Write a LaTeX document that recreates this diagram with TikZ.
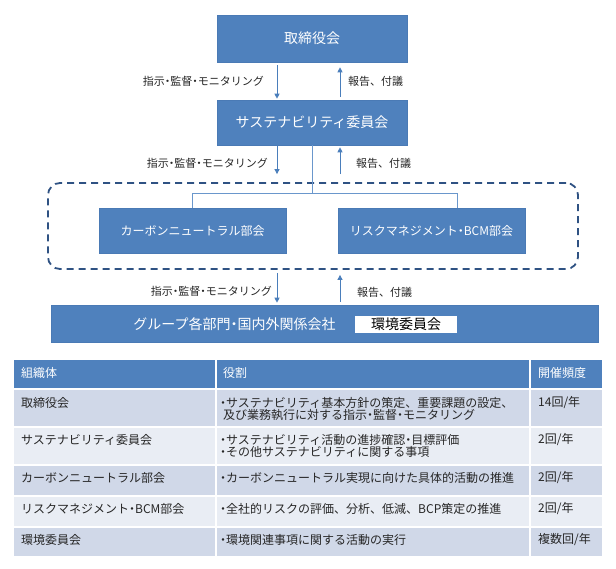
\documentclass[tikz,border=0pt]{standalone}
\usepackage{fontspec}
\setmainfont{Noto Sans CJK JP}
\usetikzlibrary{arrows.meta}
\definecolor{boxblue}{HTML}{4F81BD}
\definecolor{boxedge}{HTML}{4A7AB5}
\definecolor{arrblue}{HTML}{4A7EBB}
\definecolor{lineblue}{HTML}{6A97CC}
\definecolor{dashcol}{HTML}{2F5283}
\definecolor{rowdark}{HTML}{D0D8E8}
\definecolor{rowlight}{HTML}{E9EDF4}
\definecolor{txt}{HTML}{262626}
\newcommand\nd{\kern-0.25em・\kern-0.25em}
\tikzset{
  box/.style={fill=boxblue, draw=boxedge, line width=0.6pt, text=white,
    font=\fontsize{14}{16}\selectfont, inner sep=0pt},
  sbox/.style={box, font=\fontsize{12}{14}\selectfont},
  lbl/.style={font=\fontsize{11}{12}\selectfont, text=txt, inner sep=0pt},
  arr/.style={draw=arrblue, line width=0.9pt, -{Triangle[width=5pt,length=5pt]}},
  conn/.style={draw=lineblue, line width=0.8pt},
  dashbox/.style={draw=dashcol, line width=1.8pt, dash pattern=on 7pt off 5pt,
    rounded corners=12pt, inner sep=0pt},
  hcell/.style={fill=boxblue, draw=white, line width=2pt},
  dcell/.style={fill=rowdark, draw=white, line width=2pt},
  lcell/.style={fill=rowlight, draw=white, line width=2pt},
  htxt/.style={anchor=west, inner sep=0pt, text=white, font=\fontsize{12}{13}\selectfont},
  ttxt/.style={anchor=west, inner sep=0pt, text=txt, font=\fontsize{12}{13}\selectfont},
}
\begin{document}
\begin{tikzpicture}[x=1pt,y=-1pt]
\useasboundingbox (0,0) rectangle (616,569);

% main boxes
\node[box, minimum width=190pt, minimum height=47pt] (tori) at (312,38.5) {取締役会};
\node[box, minimum width=190pt, minimum height=45pt] (sus) at (312,122.5) {サステナビリティ委員会};
\node[dashbox, minimum width=530pt, minimum height=86pt] (grpbox) at (313,226) {};
\node[sbox, minimum width=187pt, minimum height=45pt] (cn) at (192.5,230.5) {カーボンニュートラル部会};
\node[sbox, minimum width=187pt, minimum height=45pt] (rm) at (431.5,230.5) {リスクマネジメント\nd BCM部会};
\node[box, minimum width=547pt, minimum height=37pt] (grp) at (324.5,323.5) {};
\node[text=white, inner sep=0pt, font=\fontsize{14}{16}\selectfont] (grpt) at (234.5,324) {グループ各部門\nd 国内外関係会社};
\node[fill=white, inner sep=0pt, minimum width=102pt, minimum height=17pt, text=black,
  font=\fontsize{14}{16}\selectfont] (env) at (406,324.5) {環境委員会};

% arrow columns
\coordinate (xL) at (277,0);
\coordinate (xR) at (340,0);

\draw[arr, shorten <=3pt, shorten >=1pt] (tori.south -| xL) -- (sus.north -| xL);
\draw[arr, shorten <=3pt, shorten >=5pt] (sus.north -| xR) -- (tori.south -| xR);
\node[lbl, anchor=east] (l1a) at (264,81) {指示\nd 監督\nd モニタリング};
\node[lbl, anchor=west] (l1b) at (348,81) {報告、付議};

\draw[arr, shorten <=0pt, shorten >=8pt] (sus.south -| xL) -- (grpbox.north -| xL);
\draw[arr, shorten <=8pt, shorten >=2pt] (grpbox.north -| xR) -- (sus.south -| xR);
\node[lbl, anchor=east] (l2a) at (268,163) {指示\nd 監督\nd モニタリング};
\node[lbl, anchor=west] (l2b) at (356,163) {報告、付議};

\draw[arr, shorten <=3pt, shorten >=2pt] (grpbox.south -| xL) -- (grp.north -| xL);
\draw[arr, shorten <=3pt, shorten >=5pt] (grp.north -| xR) -- (grpbox.south -| xR);
\node[lbl, anchor=east] (l3a) at (272,291) {指示\nd 監督\nd モニタリング};
\node[lbl, anchor=west] (l3b) at (357,292) {報告、付議};

% tree connector
\coordinate (bus) at (0,193);
\coordinate (rmx) at (457,0);
\draw[conn] (sus.south) -- (sus.south |- bus);
\draw[conn] (cn.north) -- (cn.north |- bus) -- (bus -| rmx) -- (rmx |- rm.north);

% table
\path[hcell] (13,359) rectangle (216,389);
\path[hcell] (216,359) rectangle (530,389);
\path[hcell] (530,359) rectangle (603,389);
\foreach \ya/\yb/\st in {389/427/dcell, 427/465/lcell, 465/496/dcell, 496/527/lcell, 527/557/dcell}{
  \path[\st] (13,\ya) rectangle (216,\yb);
  \path[\st] (216,\ya) rectangle (530,\yb);
  \path[\st] (530,\ya) rectangle (603,\yb);
}
\node[htxt] (h1) at (21,373) {組織体};
\node[htxt] (h2) at (223,373) {役割};
\node[htxt] (h3) at (538,373) {開催頻度};

\node[ttxt] (r1a) at (21,403) {取締役会};
\node[ttxt] (r1b) at (220,403) {\nd サステナビリティ基本方針の策定、重要課題の設定、};
\node[ttxt] (r1c) at (223,415) {及び業務執行に対する指示\nd 監督\nd モニタリング};
\node[ttxt] (r1d) at (538,403) {14回/年};

\node[ttxt] (r2a) at (21,440) {サステナビリティ委員会};
\node[ttxt] (r2b) at (220,440) {\nd サステナビリティ活動の進捗確認\nd 目標評価};
\node[ttxt] (r2c) at (220,452) {\nd その他サステナビリティに関する事項};
\node[ttxt] (r2d) at (538,440) {2回/年};

\node[ttxt] (r3a) at (21,478) {カーボンニュートラル部会};
\node[ttxt] (r3b) at (220,478) {\nd カーボンニュートラル実現に向けた具体的活動の推進};
\node[ttxt] (r3d) at (538,478) {2回/年};

\node[ttxt] (r4a) at (21,509) {リスクマネジメント\nd BCM部会};
\node[ttxt] (r4b) at (220,509) {\nd 全社的リスクの評価、分析、低減、BCP策定の推進};
\node[ttxt] (r4d) at (538,509) {2回/年};

\node[ttxt] (r5a) at (21,540) {環境委員会};
\node[ttxt] (r5b) at (220,540) {\nd 環境関連事項に関する活動の実行};
\node[ttxt] (r5d) at (538,540) {複数回/年};
\end{tikzpicture}
\end{document}
